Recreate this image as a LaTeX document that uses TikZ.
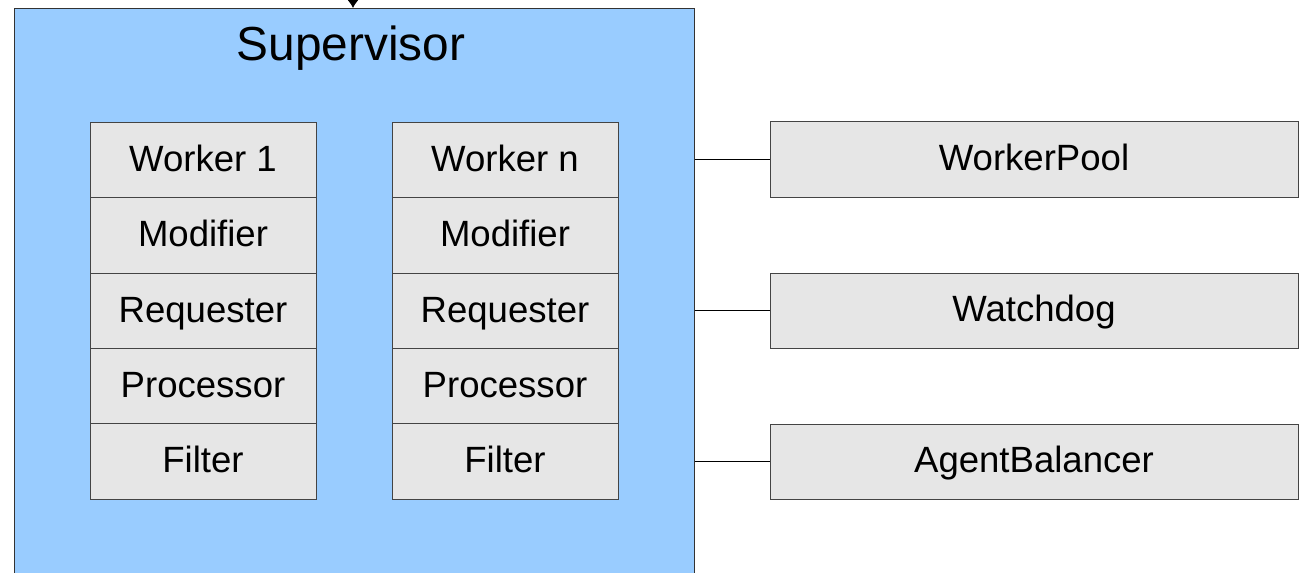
\documentclass[tikz,border=0pt]{standalone}
\usepackage{fontspec}
\setmainfont{Liberation Sans}
\usepackage{tikz}
\usetikzlibrary{arrows.meta,shapes,positioning}

\definecolor{supblue}{HTML}{99CCFF}
\definecolor{cellgray}{HTML}{E6E6E6}
\definecolor{edgegray}{HTML}{444444}

\tikzset{
    cell/.style={draw=edgegray, fill=cellgray, line width=0.7pt, minimum width=5.65cm,
        minimum height=1.8875cm, inner sep=0pt, text height=18.6pt, text depth=2.6pt,
        font=\fontsize{26}{30}\selectfont},
    sidebox/.style={draw=edgegray, fill=cellgray, line width=0.7pt, minimum width=13.2cm,
        minimum height=1.875cm, inner sep=0pt, text height=18.6pt, text depth=2.6pt,
        font=\fontsize{26}{30}\selectfont}
}

\begin{document}
\begin{tikzpicture}
    \useasboundingbox (0,0) rectangle (32.6,14.325);
    % the supervisor box, running past the bottom edge
    \node[draw=black!80, fill=supblue, line width=0.7pt, minimum width=17cm,
        minimum height=14.825cm, inner sep=0pt, anchor=north west] (sup) at (0.35,14.125) {};
    \node[font=\fontsize{34}{40}\selectfont, inner sep=0pt, text height=24.3pt, text depth=0pt]
        (suptitle) at (8.775,13.24) {Supervisor};

    % incoming arrow at the top
    \coordinate (feed) at (8.825,14.7);
    \draw [-{Latex[length=0.22cm,width=0.3cm]}, line width=0.7pt] (feed) -- (feed |- sup.north);

    % worker 1 column
    \node[cell] (w1) at (5.075,10.325) {Worker 1};
    \node[cell] (w1mod) at (5.075,8.4375) {Modifier};
    \node[cell] (w1req) at (5.075,6.55) {Requester};
    \node[cell] (w1proc) at (5.075,4.6625) {Processor};
    \node[cell] (w1filt) at (5.075,2.7875) {Filter};

    % worker n column
    \node[cell] (wn) at (12.625,10.325) {Worker n};
    \node[cell] (wnmod) at (12.625,8.4375) {Modifier};
    \node[cell] (wnreq) at (12.625,6.55) {Requester};
    \node[cell] (wnproc) at (12.625,4.6625) {Processor};
    \node[cell] (wnfilt) at (12.625,2.7875) {Filter};

    % helpers on the right
    \node[sidebox] (pool) at (25.85,10.3375) {WorkerPool};
    \node[sidebox] (dog) at (25.85,6.5625) {Watchdog};
    \node[sidebox] (bal) at (25.85,2.7875) {AgentBalancer};

    \draw [-, line width=0.7pt] (pool.west) -- (pool.west -| sup.east);
    \draw [-, line width=0.7pt] (dog.west) -- (dog.west -| sup.east);
    \draw [-, line width=0.7pt] (bal.west) -- (bal.west -| sup.east);
\end{tikzpicture}
\end{document}
